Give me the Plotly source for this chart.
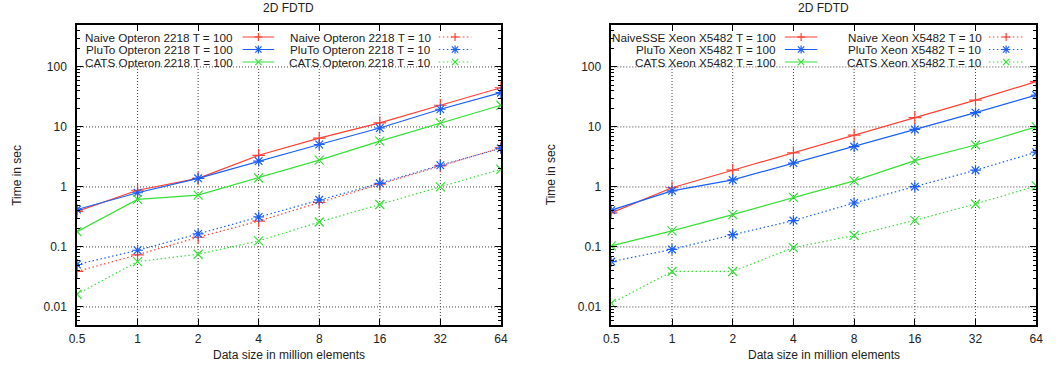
import math
import plotly.graph_objects as go

# ---------------- data ----------------
sizes = [0.5, 1, 2, 4, 8, 16, 32, 64]
size_labels = ["0.5", "1", "2", "4", "8", "16", "32", "64"]
time_ticks = [0.01, 0.1, 1, 10, 100]
time_tick_labels = ["0.01", "0.1", "1", "10", "100"]

opteron_naive_t100 = [0.39, 0.88, 1.39, 3.37, 6.5, 11.7, 23, 45]
opteron_pluto_t100 = [0.42, 0.80, 1.39, 2.7, 5.1, 9.6, 19.7, 37.3]
opteron_cats_t100 = [0.18, 0.62, 0.73, 1.41, 2.8, 5.8, 11.7, 23]
opteron_naive_t10 = [0.039, 0.074, 0.145, 0.27, 0.55, 1.11, 2.24, 4.5]
opteron_pluto_t10 = [0.051, 0.088, 0.165, 0.316, 0.61, 1.15, 2.3, 4.4]
opteron_cats_t10 = [0.0163, 0.057, 0.0755, 0.126, 0.26, 0.51, 1.0, 1.97]

xeon_naivesse_t100 = [0.37, 0.97, 1.9, 3.7, 7.3, 14.3, 28, 57]
xeon_pluto_t100 = [0.41, 0.86, 1.31, 2.5, 4.7, 9.1, 17.3, 34]
xeon_cats_t100 = [0.104, 0.185, 0.346, 0.67, 1.26, 2.75, 5.0, 10]
xeon_naive_t10 = [None, None, None, None, None, None, None, None]
xeon_pluto_t10 = [0.057, 0.091, 0.16, 0.275, 0.54, 1.01, 1.9, 3.8]
xeon_cats_t10 = [0.0115, 0.039, 0.039, 0.0975, 0.155, 0.278, 0.52, 1.04]

# ---------------- style ----------------
W, H = 1058, 367
RED, BLUE, GREEN = "#ff4032", "#1a5ff8", "#36e036"
FONT = "Liberation Sans, Arial, sans-serif"
FS = 12
FS_KEY = 11.7
TXT = "#222222"
DOTTED = "1.5px,2.5px"
GRID = dict(color="#444444", width=1, dash="1px,2px")
Y_MIN, Y_MAX = 0.005, 500

panels = [
    dict(title="2D FDTD", xaxis="x", yaxis="y", xpx=(70, 500),
         series=[
             ("Naive Opteron 2218 T = 100", opteron_naive_t100, RED, "solid", "plus"),
             ("PluTo Opteron 2218 T = 100", opteron_pluto_t100, BLUE, "solid", "star"),
             ("CATS Opteron 2218 T = 100", opteron_cats_t100, GREEN, "solid", "x"),
             ("Naive Opteron 2218 T = 10", opteron_naive_t10, RED, DOTTED, "plus"),
             ("PluTo Opteron 2218 T = 10", opteron_pluto_t10, BLUE, DOTTED, "star"),
             ("CATS Opteron 2218 T = 10", opteron_cats_t10, GREEN, DOTTED, "x"),
         ],
         legend_cols=[(230, 238, 270), (431, 437, 470)]),
    dict(title="2D FDTD", xaxis="x2", yaxis="y2", xpx=(612, 1043),
         series=[
             ("NaiveSSE Xeon X5482 T = 100", xeon_naivesse_t100, RED, "solid", "plus"),
             ("PluTo Xeon X5482 T = 100", xeon_pluto_t100, BLUE, "solid", "star"),
             ("CATS Xeon X5482 T = 100", xeon_cats_t100, GREEN, "solid", "x"),
             ("Naive Xeon X5482 T = 10", xeon_naive_t10, RED, DOTTED, "plus"),
             ("PluTo Xeon X5482 T = 10", xeon_pluto_t10, BLUE, DOTTED, "star"),
             ("CATS Xeon X5482 T = 10", xeon_cats_t10, GREEN, DOTTED, "x"),
         ],
         legend_cols=[(781, 788, 821), (990, 995, 1030)]),
]

symbol_map = {"plus": "cross-thin-open", "x": "x-thin-open", "star": "asterisk-open"}

PLOT_TOP, PLOT_BOT = 25, 325
legend_rows = [37, 49.5, 62]


def px_x(p):
    return p / W


def px_y(p):
    return 1 - p / H


fig = go.Figure()
shapes = []
annotations = []

minor_vals = [m * 10 ** e for e in range(-3, 3) for m in range(2, 10)]

for i, pn in enumerate(panels):
    for name, vals, color, dash, sym in pn["series"]:
        fig.add_trace(go.Scatter(
            x=sizes, y=vals, mode="lines+markers", name=name,
            xaxis=pn["xaxis"], yaxis=pn["yaxis"], showlegend=False,
            line=dict(color=color, width=1.2, dash=dash),
            marker=dict(symbol=symbol_map[sym], size=9, color=color,
                        line=dict(color=color, width=1.2)),
            connectgaps=False,
        ))

    suffix = "" if i == 0 else str(i + 1)
    axis_common = dict(
        type="log", showline=True, linecolor="black", linewidth=1.5, mirror="allticks",
        ticks="inside", ticklen=6, tickcolor="black", tickwidth=1,
        showgrid=False, zeroline=False, tickfont=dict(family=FONT, size=FS, color=TXT),
    )
    fig.update_layout(**{
        "xaxis" + suffix: dict(
            axis_common, domain=[px_x(pn["xpx"][0]), px_x(pn["xpx"][1])],
            range=[math.log10(sizes[0]), math.log10(sizes[-1])],
            tickvals=sizes, ticktext=size_labels,
            anchor="y" + suffix, ticklabelstandoff=2,
        ),
        "yaxis" + suffix: dict(
            axis_common, domain=[px_y(PLOT_BOT), px_y(PLOT_TOP)],
            range=[math.log10(Y_MIN), math.log10(Y_MAX)],
            tickvals=time_ticks, ticktext=time_tick_labels,
            anchor="x" + suffix, ticklabelstandoff=6,
            minor=dict(tickvals=minor_vals, ticks="inside", ticklen=3,
                       tickcolor="black", showgrid=False),
        ),
    })

    # grid: horizontal at each decade, vertical lines stopping at the key (top decade)
    xr, yr = pn["xaxis"], pn["yaxis"]
    for t in time_ticks:
        shapes.append(dict(type="line", xref=xr, yref=yr, layer="below",
                           x0=sizes[0], x1=sizes[-1], y0=t, y1=t, line=GRID))
    for s in sizes[1:-1]:
        shapes.append(dict(type="line", xref=xr, yref=yr, layer="below",
                           x0=s, x1=s, y0=Y_MIN, y1=time_ticks[-1], line=GRID))

    cx = (pn["xpx"][0] + pn["xpx"][1]) / 2
    annotations.append(dict(text=pn["title"], x=px_x(cx), y=px_y(8), xref="paper", yref="paper",
                            showarrow=False, xanchor="center", yanchor="middle",
                            font=dict(family=FONT, size=FS, color=TXT)))
    annotations.append(dict(text="Data size in million elements", x=px_x(cx), y=px_y(355),
                            xref="paper", yref="paper", showarrow=False,
                            xanchor="center", yanchor="middle",
                            font=dict(family=FONT, size=FS, color=TXT)))
    annotations.append(dict(text="Time in sec", x=px_x(pn["xpx"][0] - 61),
                            y=px_y((PLOT_TOP + PLOT_BOT) / 2),
                            xref="paper", yref="paper", showarrow=False, textangle=-90,
                            xanchor="center", yanchor="middle",
                            font=dict(family=FONT, size=FS, color=TXT)))

    # legend (gnuplot style: right-aligned text, sample on the right)
    for k, (name, vals, color, dash, sym) in enumerate(pn["series"]):
        col = k // 3
        row = k % 3
        txt_r, l0, l1 = pn["legend_cols"][col]
        ry = legend_rows[row]
        annotations.append(dict(text=name, x=px_x(txt_r), y=px_y(ry), xref="paper", yref="paper",
                                showarrow=False, xanchor="right", yanchor="middle",
                                font=dict(family=FONT, size=FS_KEY, color=TXT)))
        shapes.append(dict(type="line", xref="paper", yref="paper",
                           x0=px_x(l0), x1=px_x(l1), y0=px_y(ry), y1=px_y(ry),
                           line=dict(color=color, width=1.2, dash=dash)))
        mx = (l0 + l1) / 2
        r = 4
        segs = []
        if sym in ("plus", "star"):
            segs += [((mx - r, ry), (mx + r, ry)), ((mx, ry - r), (mx, ry + r))]
        if sym in ("x", "star"):
            d = r * 0.8
            segs += [((mx - d, ry - d), (mx + d, ry + d)), ((mx - d, ry + d), (mx + d, ry - d))]
        for (ax, ay), (bx, by) in segs:
            shapes.append(dict(type="line", xref="paper", yref="paper",
                               x0=px_x(ax), y0=px_y(ay), x1=px_x(bx), y1=px_y(by),
                               line=dict(color=color, width=1.2)))

fig.update_layout(
    width=W, height=H, margin=dict(l=0, r=0, t=0, b=0),
    paper_bgcolor="white", plot_bgcolor="white",
    showlegend=False, shapes=shapes, annotations=annotations,
    font=dict(family=FONT, color=TXT),
)

fig.write_html("out.html", config={"displayModeBar": False},
               post_script="document.body.style.margin='0px';")
